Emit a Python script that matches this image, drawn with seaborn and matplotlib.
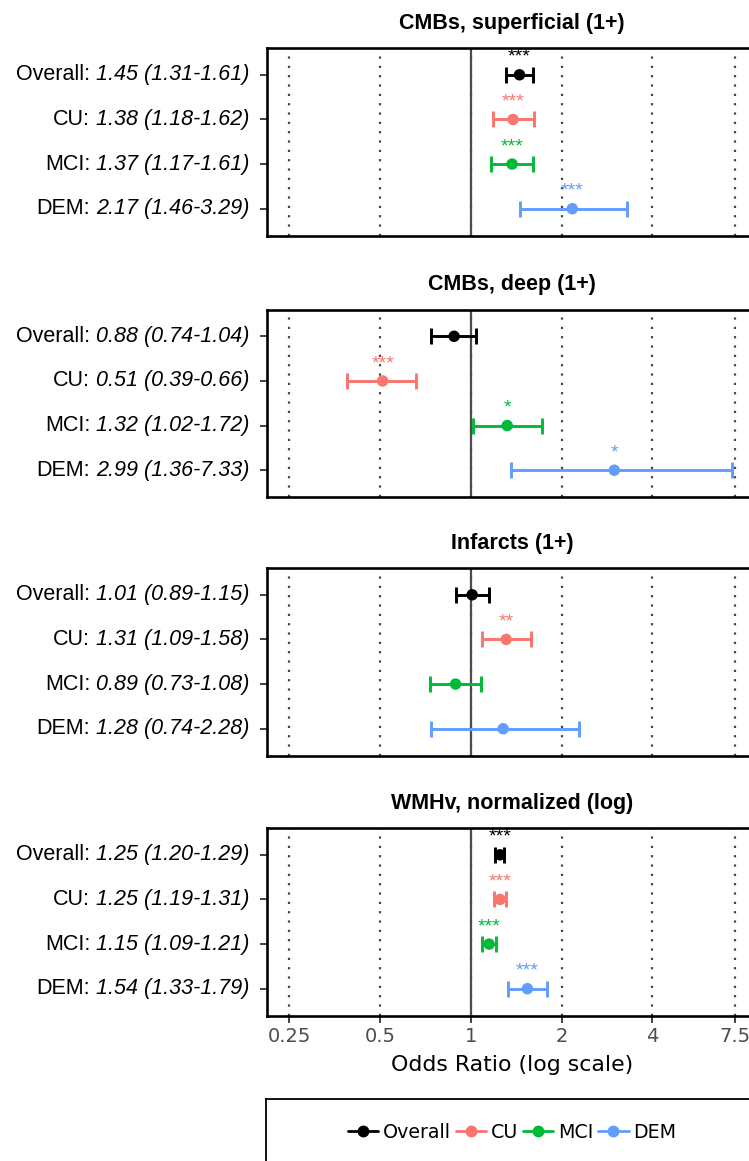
import matplotlib
matplotlib.use("Agg")
import matplotlib.pyplot as plt
from matplotlib.lines import Line2D
from matplotlib.ticker import NullLocator
import numpy as np
import pandas as pd
import seaborn as sns

groups = ["Overall", "CU", "MCI", "DEM"]
group_colors = ["#000000", "#F8766D", "#00BA38", "#619CFF"]

outcomes = [
    "CMBs, superficial (1+)",
    "CMBs, deep (1+)",
    "Infarcts (1+)",
    "WMHv, normalized (log)",
]

or_superficial = [1.45, 1.38, 1.37, 2.17]
lo_superficial = [1.31, 1.18, 1.17, 1.46]
hi_superficial = [1.61, 1.62, 1.61, 3.29]
sig_superficial = ["***", "***", "***", "***"]

or_deep = [0.88, 0.51, 1.32, 2.99]
lo_deep = [0.74, 0.39, 1.02, 1.36]
hi_deep = [1.04, 0.66, 1.72, 7.33]
sig_deep = ["", "***", "*", "*"]

or_infarcts = [1.01, 1.31, 0.89, 1.28]
lo_infarcts = [0.89, 1.09, 0.73, 0.74]
hi_infarcts = [1.15, 1.58, 1.08, 2.28]
sig_infarcts = ["", "**", "", ""]

or_wmh = [1.25, 1.25, 1.15, 1.54]
lo_wmh = [1.20, 1.19, 1.09, 1.33]
hi_wmh = [1.29, 1.31, 1.21, 1.79]
sig_wmh = ["***", "***", "***", "***"]

x_ticks = [0.25, 0.5, 1, 2, 4, 7.5]
x_tick_labels = ["0.25", "0.5", "1", "2", "4", "7.5"]

# long table, one row per outcome x group
frames = []
for name, est, lo, hi, sig in [
    (outcomes[0], or_superficial, lo_superficial, hi_superficial, sig_superficial),
    (outcomes[1], or_deep, lo_deep, hi_deep, sig_deep),
    (outcomes[2], or_infarcts, lo_infarcts, hi_infarcts, sig_infarcts),
    (outcomes[3], or_wmh, lo_wmh, hi_wmh, sig_wmh),
]:
    frames.append(pd.DataFrame({
        "outcome": name, "group": groups, "pos": np.arange(1, 5),
        "or": est, "lo": lo, "hi": hi, "sig": sig,
    }))
df = pd.concat(frames, ignore_index=True)

sns.set_theme(style="white")
plt.rcParams["font.family"] = ["Liberation Sans", "DejaVu Sans"]
plt.rcParams["text.color"] = "black"
plt.rcParams["axes.labelcolor"] = "black"

W_PX, H_PX = 749, 1161
fig = plt.figure(figsize=(W_PX / 100, H_PX / 100), dpi=100)
fig.patch.set_facecolor("white")

left_px, right_px = 267, 757
panel_h = 187.5
tops = [48, 309.5, 568, 828]
palette = dict(zip(groups, group_colors))
label_fs = 15.5

for i, (name, top) in enumerate(zip(outcomes, tops)):
    ax = fig.add_axes([left_px / W_PX, 1 - (top + panel_h) / H_PX,
                       (right_px - left_px) / W_PX, panel_h / H_PX])
    sub = df[df["outcome"] == name]

    ax.axvline(1, color="#4D4D4D", lw=1.6, zorder=1.5)
    for _, r in sub.iterrows():
        c = palette[r["group"]]
        ax.errorbar(r["or"], r["pos"], xerr=[[r["or"] - r["lo"]], [r["hi"] - r["or"]]],
                    fmt="none", ecolor=c, elinewidth=2.1, capsize=6, capthick=2.1, zorder=3)
        if r["sig"]:
            ax.text(r["or"], r["pos"] - 0.29, r["sig"], color=c, ha="center",
                    va="baseline", fontsize=14)
    sns.scatterplot(data=sub, x="or", y="pos", hue="group", palette=palette,
                    s=68, edgecolor="none", legend=False, ax=ax, zorder=4)

    ax.set_xscale("log", base=2)
    ax.set_xlim(2 ** -2.245, 2 ** 3.152)
    ax.set_xticks(x_ticks)
    ax.set_xticklabels(x_tick_labels, fontfamily="DejaVu Sans")
    ax.xaxis.set_minor_locator(NullLocator())
    ax.set_ylim(4.6, 0.4)
    ax.set_yticks(sub["pos"])
    ax.set_yticklabels([""] * 4)
    ax.grid(axis="x", which="major", color="#444444", linestyle=(0, (1, 3.2)), linewidth=1.6)
    ax.grid(axis="y", visible=False)
    ax.set_axisbelow(True)
    ax.set_xlabel("")
    ax.set_ylabel("")
    for sp in ax.spines.values():
        sp.set_color("black")
        sp.set_linewidth(1.9)

    ax.tick_params(axis="y", left=True, length=5, width=1.3, color="#333333")
    if i < 3:
        ax.tick_params(axis="x", bottom=False, labelbottom=False)
    else:
        ax.tick_params(axis="x", bottom=True, length=5, width=1.3, color="#333333",
                       pad=3.5, labelsize=14, labelcolor="#4D4D4D")
        ax.set_xlabel("Odds Ratio (log scale)", fontsize=15.8, fontfamily="DejaVu Sans",
                      color="black", labelpad=6)

    ax.set_title(name, fontsize=15.5, fontweight="bold", pad=14, color="black")

    # y labels: group name + italic OR (CI)
    for _, r in sub.iterrows():
        num_txt = f"{r['or']:.2f} ({r['lo']:.2f}-{r['hi']:.2f})"
        it = ax.annotate(num_txt, xy=(0, r["pos"]), xycoords=ax.get_yaxis_transform(),
                         xytext=(-12.5, 0), textcoords="offset points", ha="right",
                         va="center", fontsize=label_fs, fontstyle="italic", color="black")
        ax.annotate(f"{r['group']}:", xy=(0, 0.5), xycoords=it, xytext=(-4.3, 0),
                    textcoords="offset points", ha="right", va="center",
                    fontsize=label_fs, color="black")

# legend box at the bottom
leg_top = 1099
leg_ax = fig.add_axes([266 / W_PX, -0.1, (right_px - 266) / W_PX, (H_PX - leg_top) / H_PX + 0.1])
leg_ax.set_xticks([])
leg_ax.set_yticks([])
for sp in leg_ax.spines.values():
    sp.set_color("black")
    sp.set_linewidth(1.3)

handles = [Line2D([0], [0], color=c, marker="o", markersize=7.5, lw=2.0, label=g)
           for g, c in zip(groups, group_colors)]
leg = fig.legend(handles=handles, loc="center", bbox_to_anchor=(512 / W_PX, 1 - 1132 / H_PX),
                 ncol=4, frameon=False, handlelength=1.6, handletextpad=0.25,
                 columnspacing=0.25, prop={"family": "DejaVu Sans", "size": 13.7})
for t in leg.get_texts():
    t.set_color("black")

fig.savefig("out.png", dpi=100)
plt.close(fig)
